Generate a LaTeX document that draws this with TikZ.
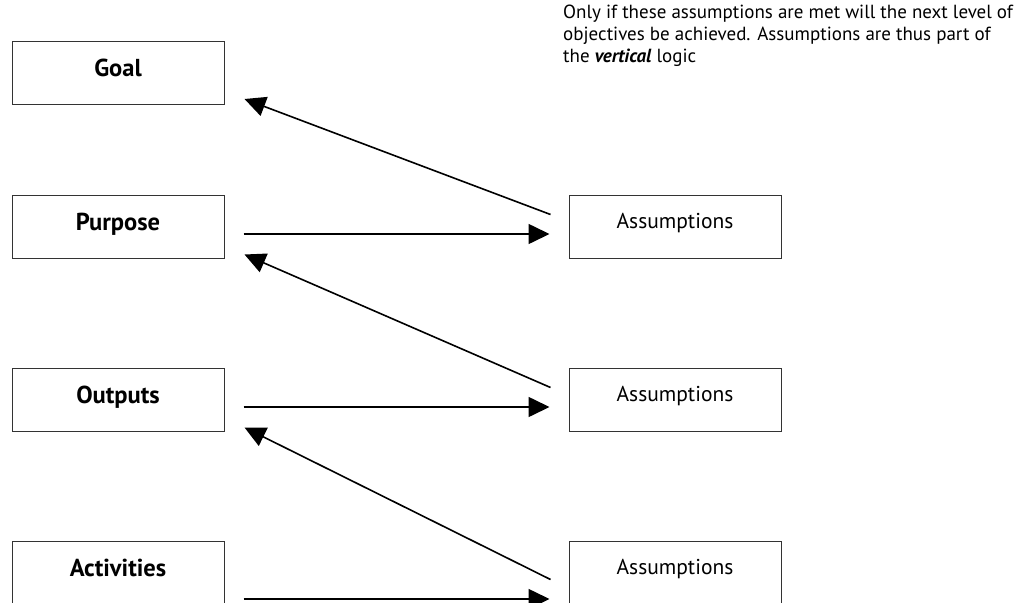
\documentclass[tikz,border=0pt]{standalone}
\usepackage{fontspec}
\setmainfont{PT Sans}
\usetikzlibrary{arrows.meta,calc}
\begin{document}
\begin{tikzpicture}[x=1pt,y=-1pt,
  levelbox/.style={draw=black!80,line width=1pt,minimum width=212pt,minimum height=63pt,
    inner sep=0pt,text height=16pt,text depth=8pt,font=\fontsize{24.5}{28}\selectfont\bfseries},
  assumbox/.style={draw=black!80,line width=1pt,minimum width=212pt,minimum height=63pt,
    inner sep=0pt,text height=14pt,text depth=11pt,font=\fontsize{21.5}{25}\selectfont},
  link/.style={line width=1.6pt,-{Triangle[length=21pt,width=20pt]}}]
\clip (0,0) rectangle (1035,602);
\useasboundingbox (0,0) rectangle (1035,602);

% logframe levels (left column)
\node[levelbox] (goal)     at (118,73)    {Goal};
\node[levelbox] (purpose)  at (118,226.5) {Purpose};
\node[levelbox] (outputs)  at (118,399.5) {Outputs};
\node[levelbox] (activities) at (118,572.5) {Activities};

% assumptions (right column)
\node[assumbox] (as1) at (675,226.5) {Assumptions};
\node[assumbox] (as2) at (675,399.5) {Assumptions};
\node[assumbox] (as3) at (675,572.5) {Assumptions};

% explanatory note
\node[anchor=north west,align=left,inner sep=0pt,
  font=\fontsize{19}{21.7}\selectfont] (note) at (563,5)
  {Only if these assumptions are met will the next level of\\
   objectives be achieved. Assumptions are thus part of\\
   the \textbf{\textit{vertical}} logic};

% level -> assumptions
\draw[link] ($(purpose.east)+(19,7.5)$) -- ($(as1.west)+(-19,7.5)$);
\draw[link] ($(outputs.east)+(19,7.5)$) -- ($(as2.west)+(-19,7.5)$);
\draw[link] ($(activities.east)+(19,26.5)$) -- ($(as3.west)+(-19,26.5)$);

% assumptions -> next level up
\draw[link] ($(as1.north west)+(-18,20)$) -- ($(goal.south east)+(20,-6)$);
\draw[link] ($(as2.north west)+(-18,20)$) -- ($(purpose.south east)+(20,-4)$);
\draw[link] ($(as3.north west)+(-18,39)$) -- ($(outputs.south east)+(20,-4)$);
\end{tikzpicture}
\end{document}
